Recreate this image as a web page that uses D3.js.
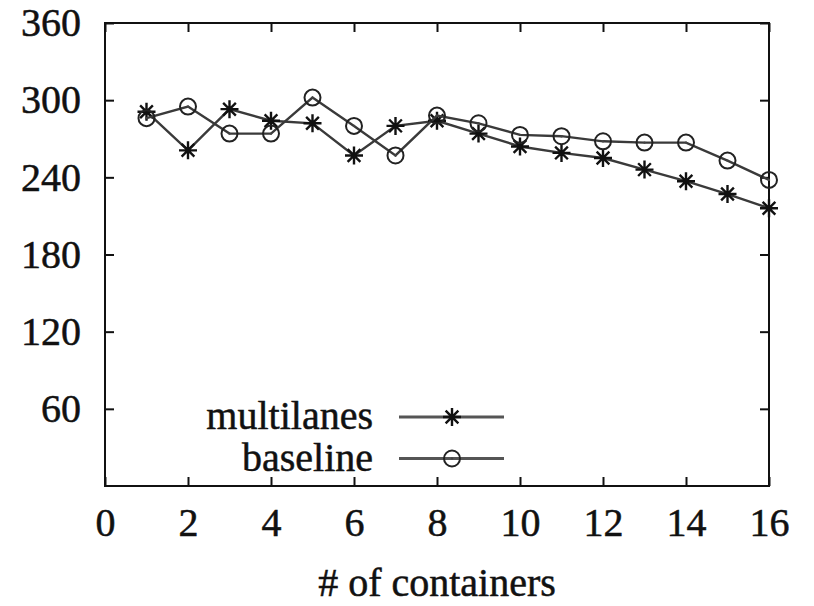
<!DOCTYPE html>
<html>
<head>
<meta charset="utf-8">
<script src="https://cdn.jsdelivr.net/npm/d3@7"></script>
<style>
  html, body { margin: 0; padding: 0; background: #fff; }
  svg { display: block; }
  text { font-family: "Liberation Serif", "Times New Roman", serif; fill: #111; stroke: #111; stroke-width: 0.5px; }
</style>
</head>
<body>
<svg id="chart" width="814" height="606"></svg>
<script>
// Throughput vs. number of containers
const containers = [1, 2, 3, 4, 5, 6, 7, 8, 9, 10, 11, 12, 13, 14, 15, 16];
const multilanes = [291, 261, 293, 284, 282, 257, 280, 284, 274, 264, 259, 255, 246, 237, 227, 216];
const baseline   = [286, 295, 274, 274, 302, 280, 257, 288, 282, 273, 272, 268, 267, 267, 253, 238];
const xTicks = [0, 2, 4, 6, 8, 10, 12, 14, 16];
const yTicks = [60, 120, 180, 240, 300, 360];
const seriesNames = ["multilanes", "baseline"];
const xLabel = "# of containers";

const svg = d3.select("#chart");
const plot = { left: 105, right: 769, top: 23, bottom: 486 };
const fontSize = 40;
const tickLen = 9;

const x = d3.scaleLinear().domain([0, 16]).range([plot.left, plot.right]);
const y = d3.scaleLinear().domain([0, 360]).range([plot.bottom, plot.top]);

// frame
svg.append("rect")
  .attr("x", plot.left).attr("y", plot.top)
  .attr("width", plot.right - plot.left).attr("height", plot.bottom - plot.top)
  .attr("fill", "none").attr("stroke", "#111").attr("stroke-width", 2);

// axes with inward ticks, mirrored on the opposite sides
const bottomAxis = d3.axisBottom(x).tickValues(xTicks).tickSize(-tickLen).tickPadding(22);
const topAxis = d3.axisTop(x).tickValues(xTicks).tickSize(-tickLen).tickFormat("");
const leftAxis = d3.axisLeft(y).tickValues(yTicks).tickSize(-tickLen).tickPadding(24);
const rightAxis = d3.axisRight(y).tickValues(yTicks).tickSize(-tickLen).tickFormat("");

function styleAxis(g) {
  g.select(".domain").remove();
  g.selectAll(".tick line").attr("stroke", "#111").attr("stroke-width", 2);
  g.selectAll(".tick text")
    .attr("font-family", "Liberation Serif, serif")
    .attr("font-size", fontSize)
    .attr("fill", "#111");
}

svg.append("g").attr("transform", `translate(0,${plot.bottom})`).call(bottomAxis).call(styleAxis);
svg.append("g").attr("transform", `translate(0,${plot.top})`).call(topAxis).call(styleAxis);
svg.append("g").attr("transform", `translate(${plot.left},0)`).call(leftAxis).call(styleAxis);
svg.append("g").attr("transform", `translate(${plot.right},0)`).call(rightAxis).call(styleAxis);

// x axis title
svg.append("text")
  .attr("x", (plot.left + plot.right) / 2)
  .attr("y", 596)
  .attr("text-anchor", "middle")
  .attr("font-size", fontSize)
  .text(xLabel);

// marker shapes
const lineColor = "#3a3a3a";
function drawStar(g, cx, cy, r) {
  const d = r * Math.SQRT1_2;
  g.append("path")
    .attr("d", `M${cx - r},${cy}L${cx + r},${cy}M${cx},${cy - r}L${cx},${cy + r}` +
               `M${cx - d},${cy - d}L${cx + d},${cy + d}M${cx - d},${cy + d}L${cx + d},${cy - d}`)
    .attr("stroke", "#111").attr("stroke-width", 2.4).attr("fill", "none");
}
function drawCircle(g, cx, cy, r) {
  g.append("circle").attr("cx", cx).attr("cy", cy).attr("r", r)
    .attr("fill", "none").attr("stroke", "#222").attr("stroke-width", 2);
  g.append("circle").attr("cx", cx).attr("cy", cy).attr("r", 1.2).attr("fill", "#444");
}
const markers = [drawStar, drawCircle];
const markerSize = [9, 8];

const line = d3.line().x((d, i) => x(containers[i])).y(d => y(d));
const series = [multilanes, baseline];

series.forEach((vals, s) => {
  const g = svg.append("g");
  g.append("path").datum(vals)
    .attr("d", line)
    .attr("fill", "none").attr("stroke", lineColor).attr("stroke-width", 2.4);
  vals.forEach((v, i) => markers[s](g, x(containers[i]), y(v), markerSize[s]));
});

// legend
const legend = svg.append("g");
seriesNames.forEach((name, s) => {
  const ly = 417 + s * 41.5;
  legend.append("text")
    .attr("x", 373).attr("y", ly + 12)
    .attr("text-anchor", "end")
    .attr("font-size", fontSize)
    .text(name);
  legend.append("line")
    .attr("x1", 399).attr("x2", 504).attr("y1", ly).attr("y2", ly)
    .attr("stroke", "#555").attr("stroke-width", 2.8);
  markers[s](legend, 452, ly, markerSize[s]);
});
</script>
</body>
</html>
